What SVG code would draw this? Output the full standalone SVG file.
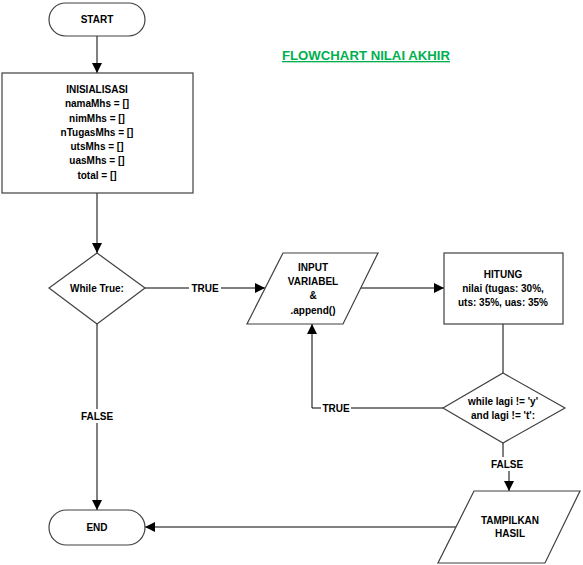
<svg xmlns="http://www.w3.org/2000/svg" width="583" height="565" viewBox="0 0 583 565">
<defs>
<style>
.shape{fill:#fff;stroke:#404040;stroke-width:1.2}
.t{font-family:"Liberation Sans",Arial,sans-serif;font-weight:bold;font-size:10px;fill:#000;text-anchor:middle}
.c{fill:none;stroke:#000;stroke-width:1}
.lbl{font-family:"Liberation Sans",Arial,sans-serif;font-weight:bold;font-size:10px;fill:#000;text-anchor:middle;dominant-baseline:central}
.title{font-family:"Liberation Sans",Arial,sans-serif;font-weight:bold;font-size:13.2px;fill:#00B050;text-anchor:middle;text-decoration:underline}
</style>
<marker id="arr" viewBox="0 0 10 10" refX="10" refY="5" markerWidth="10" markerHeight="10" markerUnits="userSpaceOnUse" orient="auto">
<path d="M0,0 L10,5 L0,10 Z" fill="#000"/>
</marker>
</defs>
<rect width="583" height="565" fill="#fff"/>
<text class="title" x="366" y="60">FLOWCHART NILAI AKHIR</text>

<g id="connectors">
<path class="c" d="M97,36 V73" marker-end="url(#arr)"/>
<path class="c" d="M97,193 V253" marker-end="url(#arr)"/>
<path class="c" d="M145,288 H265" marker-end="url(#arr)"/>
<path class="c" d="M360,288 H444" marker-end="url(#arr)"/>
<path class="c" d="M503,324 V373"/>
<path class="c" d="M443,408 H312 V324" marker-end="url(#arr)"/>
<path class="c" d="M503,443 V463 H509 V491" marker-end="url(#arr)"/>
<path class="c" d="M456,527 H145" marker-end="url(#arr)"/>
<path class="c" d="M97,324 V510" marker-end="url(#arr)"/>
<rect x="189" y="281" width="32" height="14" fill="#fff"/>
<text class="lbl" x="205" y="288">TRUE</text>
<rect x="321" y="401" width="30" height="14" fill="#fff"/>
<text class="lbl" x="336" y="408">TRUE</text>
<rect x="488" y="457" width="36" height="14" fill="#fff"/>
<text class="lbl" x="507" y="464">FALSE</text>
<rect x="80" y="409" width="34" height="14" fill="#fff"/>
<text class="lbl" x="97" y="416">FALSE</text>
</g>

<g id="start">
<rect class="shape" x="49" y="3" width="96" height="33" rx="16.5"/>
<text class="t" x="97" y="23">START</text>
</g>

<g id="init">
<rect class="shape" x="2" y="73" width="191" height="120"/>
<text class="t" x="97" y="93">INISIALISASI</text>
<text class="t" x="97" y="107">namaMhs = []</text>
<text class="t" x="97" y="122">nimMhs = []</text>
<text class="t" x="97" y="136">nTugasMhs = []</text>
<text class="t" x="97" y="150">utsMhs = []</text>
<text class="t" x="97" y="164">uasMhs = []</text>
<text class="t" x="97" y="179">total = []</text>
</g>

<g id="while-true">
<polygon class="shape" points="97,253 145,288 97,324 49,288"/>
<text class="t" x="97" y="292">While True:</text>
</g>

<g id="input">
<polygon class="shape" points="283,253 378,253 343,324 247,324"/>
<text class="t" x="313" y="271">INPUT</text>
<text class="t" x="313" y="285">VARIABEL</text>
<text class="t" x="313" y="299">&amp;</text>
<text class="t" x="313" y="314">.append()</text>
</g>

<g id="hitung">
<rect class="shape" x="444" y="253" width="119" height="71"/>
<text class="t" x="503" y="278">HITUNG</text>
<text class="t" x="503" y="292">nilai (tugas: 30%,</text>
<text class="t" x="503" y="306">uts: 35%, uas: 35%</text>
</g>

<g id="while-lagi">
<polygon class="shape" points="503,373 565,408 503,443 443,408"/>
<text class="t" x="503" y="405">while lagi != 'y'</text>
<text class="t" x="503" y="419">and lagi != 't':</text>
</g>

<g id="tampilkan">
<polygon class="shape" points="474,491 580,491 545,563 438,563"/>
<text class="t" x="510" y="524">TAMPILKAN</text>
<text class="t" x="510" y="537">HASIL</text>
</g>

<g id="end">
<rect class="shape" x="49" y="510" width="96" height="35" rx="17.5"/>
<text class="t" x="97" y="531">END</text>
</g>
</svg>
